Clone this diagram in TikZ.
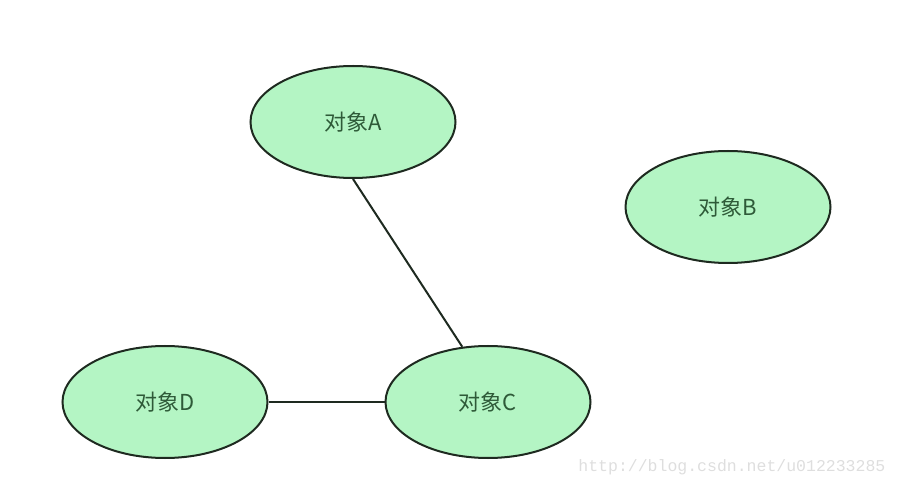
\documentclass[tikz,border=0pt]{standalone}
\usepackage{fontspec}
\newfontfamily\cjk{Noto Sans CJK SC}
\newfontfamily\wmfont{Liberation Mono}
\usetikzlibrary{shapes.geometric, positioning}
\definecolor{objfill}{HTML}{B4F5C4}
\definecolor{objtext}{HTML}{2E5A38}
\definecolor{objline}{HTML}{1E2A20}

\begin{document}
\begin{tikzpicture}[x=1pt,y=1pt,semithick,node distance=323pt, obj/.style={ellipse, draw=objline, line width=2pt, fill=objfill, minimum width=205pt, minimum height=112pt, inner sep=0pt, text=objtext, font=\cjk\fontsize{22}{24}\selectfont}]
  \useasboundingbox (0,0) rectangle (900,-486);
  \node[obj] (a) at (353,-122) {对象A};
  \node[obj] (b) at (728,-207) {对象B};
  \node[obj] (d) at (165,-402) {对象D};
  \node[obj] (c) [right of = d] {对象C};

  \draw[line width=2pt, objline] (a.south) -- (c.115);
  \draw[line width=2pt, objline] (d) -- (c);

  \node[anchor=base east, text=black!13, font=\wmfont\fontsize{16.5}{18}\selectfont] (wm) at (889,-471) {http://blog.csdn.net/u012233285};
\end{tikzpicture}
\end{document}
